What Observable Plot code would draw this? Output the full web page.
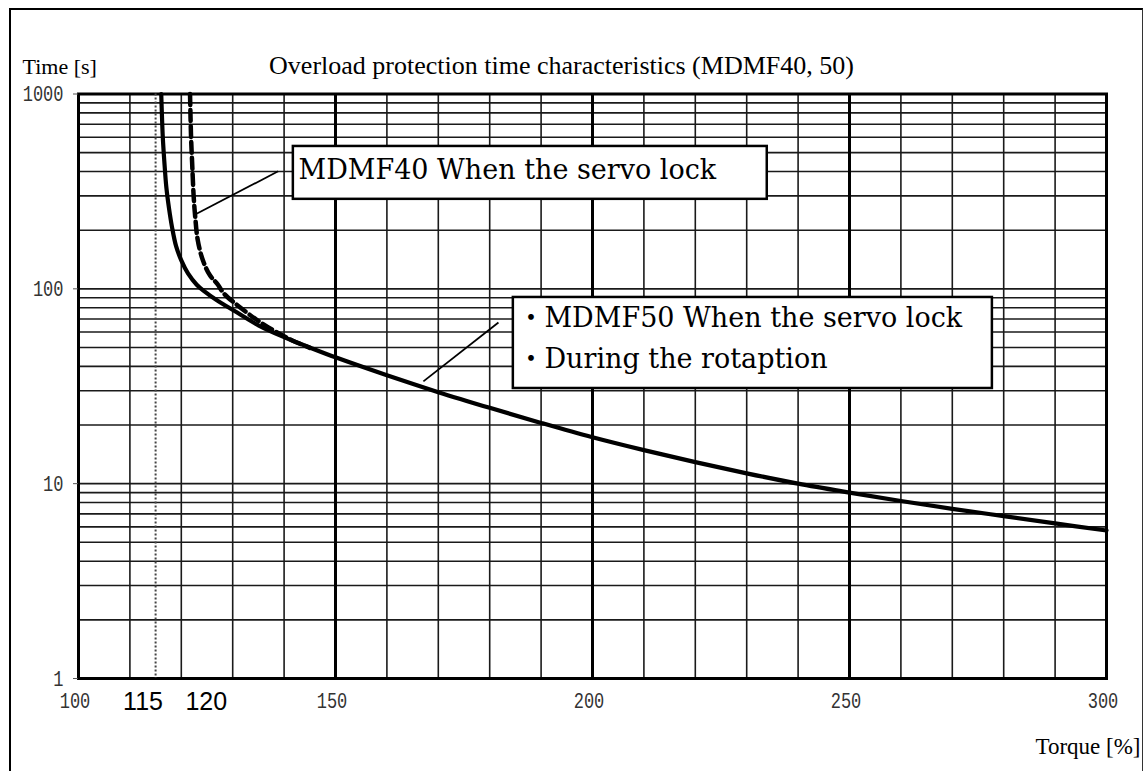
<!DOCTYPE html>
<html>
<head>
<meta charset="utf-8">
<script src="https://cdn.jsdelivr.net/npm/d3@7"></script>
<script src="https://cdn.jsdelivr.net/npm/@observablehq/plot@0.6"></script>
<style>
  html, body { margin: 0; padding: 0; background: #fff; }
  body { width: 1143px; height: 771px; position: relative; overflow: hidden; }
  #chart { position: absolute; left: 0; top: 0; }
  #frame { position: absolute; left: 9px; top: 8px; width: 1134px; height: 900px;
           border-left: 2.5px solid #000; border-top: 2.5px solid #000; border-right: 1.5px solid #333;
           box-sizing: border-box; pointer-events: none; }
</style>
</head>
<body>
<div id="chart"></div>
<div id="frame"></div>
<script>
// ---- data ----
const titleText = "Overload protection time characteristics (MDMF40, 50)";
const yAxisTitle = "Time [s]";
const xAxisTitle = "Torque [%]";

const xTicks = [100, 150, 200, 250, 300];
const yTicks = [1, 10, 100, 1000];
const xGrid = [100, 110, 120, 130, 140, 150, 160, 170, 180, 190, 200, 210, 220, 230, 240, 250, 260, 270, 280, 290, 300];
const xMajor = [150, 200, 250];
const yGrid = [1, 2, 3, 4, 5, 6, 7, 8, 9, 10, 20, 30, 40, 50, 60, 70, 80, 90, 100, 200, 300, 400, 500, 600, 700, 800, 900, 1000];

const limitTorque = [115];
const markerTicks = ["115", "120"];
const markerValues = [115, 120];

// Solid curve: MDMF50 servo lock / during rotation
const solidTorque = [116.1, 116.4, 116.7, 117.1, 117.6, 118.2, 119.0, 120.0, 121.3, 123.0, 124.5, 127.0, 130.2, 135, 140, 145, 150, 160, 170, 180, 190, 200, 210, 220, 230, 240, 250, 260, 270, 280, 290, 300];
const solidTime   = [1000, 600, 450, 330, 260, 207, 165, 140, 120, 105, 97, 87, 77.4, 65, 56.5, 50, 44.5, 36, 29.5, 24.5, 20.5, 17.3, 14.86, 12.9, 11.3, 10.0, 9.0, 8.15, 7.43, 6.81, 6.25, 5.75];

// Dashed curve: MDMF40 servo lock
const dashedTorque = [121.7, 121.9, 122.1, 122.4, 122.7, 123.2, 124.2, 125.6, 127.0, 128.3, 130.5, 134.8, 138.0, 141.5, 145.0];
const dashedTime   = [1000, 600, 450, 300, 235, 178, 140, 117, 106, 94.5, 84, 69, 61, 54.5, 49.8];

// Annotations (data units)
const boxX1 = [141.8, 184.6];
const boxX2 = [234.0, 277.8];
const boxY1 = [538, 90.3];
const boxY2 = [288, 30.8];

const leaderX1 = [122.6, 167.1];
const leaderY1 = [240, 33.5];
const leaderX2 = [138.85, 181.7];
const leaderY2 = [401, 67.2];

const noteText = ["MDMF40 When the servo lock", "・MDMF50 When the servo lock", "・During the rotaption"];
const noteX = [142.8, 185.4, 185.4];
const noteY = [407, 70.5, 43.6];

// ---- tables ----
const solid = solidTorque.map((t, i) => ({torque: t, time: solidTime[i]}));
const dashed = dashedTorque.map((t, i) => ({torque: t, time: dashedTime[i]}));
const boxes = boxX1.map((x, i) => ({x1: x, x2: boxX2[i], y1: boxY1[i], y2: boxY2[i]}));
const leaders = leaderX1.map((x, i) => ({x1: x, y1: leaderY1[i], x2: leaderX2[i], y2: leaderY2[i]}));
const notes = noteText.map((s, i) => ({text: s, x: noteX[i], y: noteY[i]}));

const serif = "'Liberation Serif', 'Times New Roman', serif";
const noteFont = "'DejaVu Serif', 'Noto Sans CJK JP', serif";

const chart = Plot.plot({
  width: 1143,
  height: 771,
  marginLeft: 78,
  marginRight: 37,
  marginTop: 93.5,
  marginBottom: 93,
  style: {fontFamily: "'Liberation Mono', monospace", fontSize: "22px", color: "#333", background: "#fff"},
  x: {domain: [100, 300]},
  y: {type: "log", domain: [1, 1000]},
  marks: [
    Plot.ruleY(yGrid, {stroke: "#1a1a1a", strokeWidth: 1.6}),
    Plot.ruleX(xGrid, {stroke: "#1a1a1a", strokeWidth: 1.6}),
    Plot.ruleX(xMajor, {stroke: "#000", strokeWidth: 3}),
    Plot.frame({stroke: "#000", strokeWidth: 3}),
    Plot.ruleX(limitTorque, {stroke: "#444", strokeWidth: 2, strokeDasharray: "2,2"}),
    Plot.line(dashed, {x: "torque", y: "time", stroke: "#000", strokeWidth: 4.5, strokeDasharray: "11,5", curve: "catmull-rom"}),
    Plot.line(solid, {x: "torque", y: "time", stroke: "#000", strokeWidth: 4.2, curve: "catmull-rom"}),
    Plot.link(leaders, {x1: "x1", y1: "y1", x2: "x2", y2: "y2", stroke: "#000", strokeWidth: 1.8}),
    Plot.rect(boxes, {x1: "x1", x2: "x2", y1: "y1", y2: "y2", fill: "#fff", stroke: "#000", strokeWidth: 2.5}),
    Plot.text(notes, {x: "x", y: "y", text: "text", textAnchor: "start", fontFamily: noteFont, fontSize: 27, fill: "#000"}),
    Plot.axisX({ticks: xTicks, tickSize: 0, tickPadding: 14, dx: -3.5, label: null, tickFormat: d => String(d)}),
    Plot.axisY({ticks: yTicks, tickSize: 5, tickPadding: 10, label: null, tickFormat: d => String(d), stroke: "#555"}),
    Plot.text([markerTicks[0]], {x: [markerValues[0]], frameAnchor: "bottom", dy: 31, dx: -12.6, text: d => d, fontFamily: "'Liberation Sans', Arial, sans-serif", fontSize: 25, fill: "#000"}),
    Plot.text([markerTicks[1]], {x: [markerValues[1]], frameAnchor: "bottom", dy: 31, dx: 25, text: d => d, fontFamily: "'Liberation Sans', Arial, sans-serif", fontSize: 25, fill: "#000"}),
    Plot.text([titleText], {frameAnchor: "top", dx: -31, dy: -38.3, text: d => d, fontFamily: serif, fontSize: 26, fill: "#000"}),
    Plot.text([yAxisTitle], {frameAnchor: "top-left", textAnchor: "start", dx: -56, dy: -35.5, text: d => d, fontFamily: serif, fontSize: 22, fill: "#000"}),
    Plot.text([xAxisTitle], {frameAnchor: "bottom-right", textAnchor: "end", dx: 34, dy: 75.7, text: d => d, fontFamily: serif, fontSize: 23, fill: "#000"})
  ]
});

chart.querySelectorAll('g[aria-label="x-axis tick label"] text, g[aria-label="y-axis tick label"] text').forEach(t => {
  const n = t.textContent.length;
  t.setAttribute("textLength", n * 10.2);
  t.setAttribute("lengthAdjust", "spacingAndGlyphs");
});

document.getElementById("chart").appendChild(chart);
</script>
</body>
</html>
